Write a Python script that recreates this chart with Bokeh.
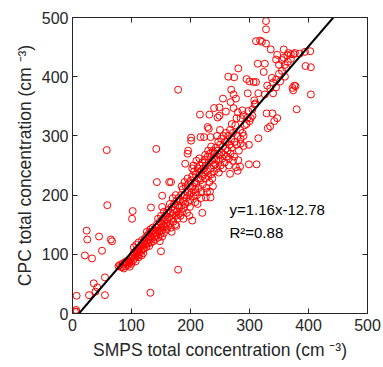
from bokeh.plotting import figure
from bokeh.models import Range1d, LinearAxis, Label, FixedTicker
from bokeh.embed import file_html
from bokeh.resources import INLINE

# ---- data ----
smps = [
    328, 328, 311, 318, 321, 328, 336, 358, 345, 347, 364, 370, 377, 385, 394, 403, 395, 404, 404, 380,
    376, 373, 378, 374, 281, 264, 274, 295, 307, 311, 314, 326, 324, 308, 326, 315, 309, 347, 342, 331,
    335, 329, 339, 179, 255, 269, 273, 277, 268, 297, 300, 240, 249, 249, 246, 260, 273, 288, 297, 305,
    216, 232, 229, 231, 217, 223, 234, 201, 201, 191, 285, 290, 299, 315, 299, 312, 281, 284, 280,
    142, 58, 59, 143, 164, 167, 152, 102, 101, 133, 152, 24, 25, 45, 65, 67, 50, 21, 33, 150, 179, 132,
    7, 28, 55, 55, 36, 42, 39, 6, 7, 4, 203, 220, 234, 226, 233, 209, 267, 277, 196, 195,
    78, 80, 82, 84, 85, 87, 88, 90, 91, 92, 94, 95, 96, 97, 98, 99, 100, 100,
    102, 103, 104, 105, 106, 107, 108, 109, 110, 111, 112, 113, 114, 115, 116, 117, 118, 119, 120, 120, 108, 112, 118, 104,
    121, 122, 123, 124, 125, 126, 127, 128, 129, 130, 130, 131, 132, 133, 134, 135, 136, 137, 138, 139, 140, 140, 126, 132, 136,
    141, 142, 143, 144, 145, 146, 147, 148, 149, 150, 151, 152, 153, 154, 155, 156, 157, 158, 159, 160, 160, 145, 150, 155, 148, 152,
    161, 162, 163, 164, 165, 166, 167, 168, 169, 170, 171, 172, 173, 174, 175, 176, 177, 178, 179, 180, 180, 165, 170, 175, 168, 176,
    181, 182, 183, 184, 185, 186, 187, 188, 189, 190, 191, 192, 193, 194, 195, 196, 197, 198, 199, 200, 200, 185, 190, 195, 188, 198,
    201, 202, 203, 204, 205, 206, 207, 208, 209, 210, 211, 212, 213, 214, 215, 216, 217, 218, 219, 220, 220, 205, 210, 215, 208, 218, 212, 203,
    221, 222, 223, 224, 225, 226, 227, 228, 229, 230, 231, 232, 233, 234, 235, 236, 237, 238, 239, 240, 240, 225, 230, 235, 228, 238,
    241, 242, 243, 244, 245, 246, 247, 248, 249, 250, 251, 252, 253, 254, 255, 256, 257, 258, 259, 260, 260, 245, 250, 248, 255,
    261, 262, 263, 264, 265, 266, 267, 268, 269, 270, 272, 274, 275, 276, 278, 280, 282, 284, 285, 270, 278, 265, 272, 288, 292,
    295, 300, 290, 305, 310, 298, 285, 280, 290, 302,
    335, 340, 345, 350, 355, 360, 365, 350, 355, 340, 345, 360, 370, 358, 362, 330, 338, 352, 366, 375,
]
cpc = [
    494, 480, 460, 461, 459, 456, 446, 446, 429, 437, 436, 438, 440, 439, 442, 443, 418, 416, 370, 345,
    385, 381, 384, 377, 414, 400, 399, 396, 391, 391, 422, 422, 408, 360, 370, 372, 353, 330, 325, 313,
    316, 338, 338, 378, 363, 378, 370, 363, 357, 372, 392, 347, 348, 334, 331, 341, 347, 343, 331, 334,
    336, 336, 315, 312, 298, 298, 298, 297, 292, 253, 287, 283, 285, 296, 252, 252, 259, 248, 241,
    278, 276, 183, 222, 222, 222, 199, 173, 160, 179, 180, 140, 125, 130, 125, 122, 106, 98, 93, 105, 74, 35,
    30, 31, 31, 61, 51, 44, 37, 6, 3, 3, 157, 170, 196, 196, 206, 205, 236, 247, 275, 270,
    80, 82, 79, 78, 84, 76, 86, 80, 88, 84, 82, 90, 86, 79, 92, 88, 95, 84,
    98, 90, 103, 94, 100, 88, 106, 97, 102, 110, 95, 104, 100, 112, 106, 98, 115, 108, 118, 102, 116, 120, 124, 112,
    110, 124, 116, 128, 112, 120, 132, 118, 126, 114, 136, 124, 130, 120, 138, 128, 134, 122, 140, 130, 136, 125, 138, 142, 145,
    145, 132, 150, 140, 128, 148, 138, 155, 134, 145, 152, 140, 160, 148, 136, 158, 146, 165, 152, 142, 170, 160, 165, 172, 122, 130,
    158, 148, 175, 162, 152, 170, 145, 180, 160, 168, 155, 185, 175, 150, 165, 190, 172, 160, 182, 168, 195, 185, 195, 200, 138, 148,
    178, 190, 165, 200, 182, 172, 210, 190, 178, 200, 185, 215, 195, 170, 205, 188, 220, 200, 180, 212, 192, 215, 222, 228, 160, 165,
    225, 205, 232, 215, 198, 240, 222, 210, 235, 220, 200, 245, 228, 212, 238, 250, 225, 205, 242, 232, 255, 250, 258, 262, 188, 195, 185, 245,
    218, 245, 235, 260, 228, 250, 212, 240, 265, 232, 255, 222, 270, 245, 235, 258, 228, 275, 250, 262, 240, 268, 275, 282, 205, 215,
    270, 252, 280, 260, 245, 275, 290, 258, 268, 285, 250, 295, 272, 262, 282, 300, 268, 255, 290, 278, 305, 300, 310, 238, 245,
    265, 290, 275, 300, 262, 285, 310, 270, 295, 280, 305, 265, 290, 318, 285, 300, 275, 310, 295, 320, 330, 250, 258, 305, 318,
    320, 325, 300, 345, 355, 342, 330, 340, 335, 330,
    380, 390, 395, 405, 410, 420, 425, 420, 428, 372, 382, 400, 430, 432, 415, 385, 398, 392, 440, 438,
]
slope = 1.16
intercept = -12.78
r2 = 0.88
ticks = [0, 100, 200, 300, 400, 500]

FONT = "Liberation Sans"
TXT = "#262626"

p = figure(width=383, height=367, output_backend="svg", toolbar_location=None,
           x_range=Range1d(0, 500), y_range=Range1d(0, 500),
           min_border_left=72, min_border_right=16, min_border_top=17, min_border_bottom=54)
p.grid.visible = False
p.outline_line_color = TXT
p.outline_line_width = 1
p.background_fill_color = "white"
p.border_fill_color = "white"

p.scatter(smps, cpc, marker="circle", size=7, fill_color=None, line_color="red", line_width=1)

x0 = (0 - intercept) / slope
x1 = (500 - intercept) / slope
p.line([x0, x1], [slope * x0 + intercept, slope * x1 + intercept], line_color="black", line_width=2)

for ax in (p.xaxis[0], p.yaxis[0]):
    ax.ticker = FixedTicker(ticks=ticks)
    ax.major_tick_in = 5
    ax.major_tick_out = 0
    ax.minor_tick_in = 0
    ax.minor_tick_out = 0
    ax.axis_line_color = TXT
    ax.major_tick_line_color = TXT
    ax.major_label_text_font = FONT
    ax.major_label_text_font_size = "16px"
    ax.major_label_text_color = TXT
    ax.axis_label_text_font = FONT
    ax.axis_label_text_font_size = "17.5px"
    ax.axis_label_text_font_style = "normal"
    ax.axis_label_text_color = TXT

p.xaxis.axis_label = "SMPS total concentration (cm \u207b\u00b3)"
p.yaxis.axis_label = "CPC total concentration (cm \u207b\u00b3)"
p.xaxis.major_label_standoff = 5
p.yaxis.major_label_standoff = 4
p.xaxis.axis_label_standoff = 6
p.yaxis.axis_label_standoff = 4

for loc in ("above", "right"):
    ax = LinearAxis(ticker=FixedTicker(ticks=ticks), major_tick_in=5, major_tick_out=0,
                    minor_tick_in=0, minor_tick_out=0,
                    major_label_overrides={t: "" for t in ticks},
                    axis_line_color=TXT, major_tick_line_color=TXT, major_label_standoff=0)
    p.add_layout(ax, loc)

p.add_layout(Label(x=266, y=176, text=f"y={slope}x{intercept}", text_font=FONT, text_font_size="15px",
                   text_color="black", text_baseline="middle"))
p.add_layout(Label(x=266, y=137, text=f"R\u00b2={r2}", text_font=FONT, text_font_size="15px",
                   text_color="black", text_baseline="middle"))

open("out.html", "w").write(file_html(p, INLINE))
